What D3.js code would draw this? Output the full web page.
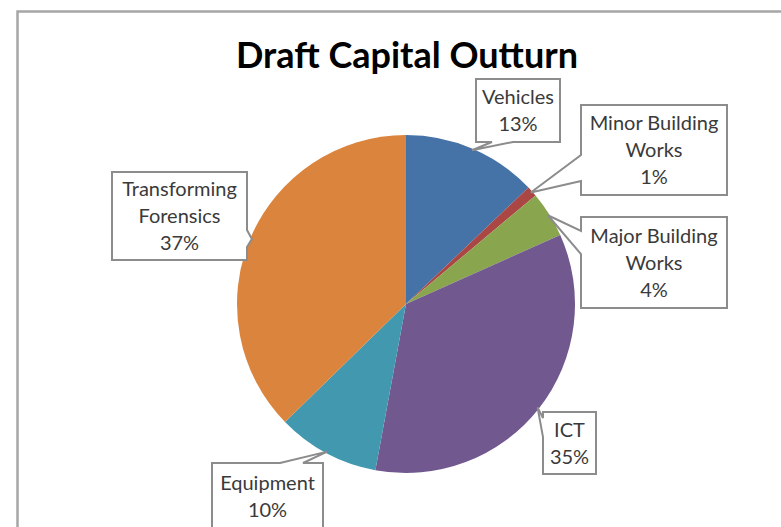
<!DOCTYPE html>
<html>
<head>
<meta charset="utf-8">
<script src="https://cdn.jsdelivr.net/npm/d3@7/dist/d3.min.js"></script>
<style>
    body { margin: 0; background: #fff; }
</style>
</head>
<body>
<div class="svg-container"></div>
<script>
// Data
const title = "Draft Capital Outturn";
const categories = ["Vehicles", "Minor Building Works", "Major Building Works", "ICT", "Equipment", "Transforming Forensics"];
const values = [12.9, 1.0, 4.4, 34.6, 9.8, 37.3];
// how each category name wraps inside its callout
const labelLines = [["Vehicles"], ["Minor Building", "Works"], ["Major Building", "Works"], ["ICT"], ["Equipment"], ["Transforming", "Forensics"]];
const colours = ["#4572a7", "#aa4643", "#89a54e", "#71588f", "#4198af", "#db843d"];

/**
 * Pie chart
 *      draws the excel style pie with callout labels
 */
const pieChart = (() => {
    const SCREEN = { WIDTH: 781, HEIGHT: 527 };
    const PIE = { CX: 406, CY: 304, R: 169 };

    // callout boxes : position of the box, which side the pointer leaves from
    // and where along that side the pointer is attached
    const callouts = [
        { x: 476, y: 79,  w: 84,  h: 63, side: 'bottom', a: [16, 37] },
        { x: 581, y: 105, w: 146, h: 90, side: 'left',   a: [50, 76] },
        { x: 581, y: 217, w: 146, h: 91, side: 'left',   a: [14, 37] },
        { x: 543, y: 412, w: 53,  h: 62, side: 'left',   a: [6, 25] },
        { x: 212, y: 463, w: 111, h: 66, side: 'top',    a: [68, 91] },
        { x: 112, y: 172, w: 135, h: 88, side: 'right',  a: [58, 75] }
    ];

    const initSVG = () => {
        return d3.select('.svg-container').append('svg')
                 .attr('width', SCREEN.WIDTH)
                 .attr('height', SCREEN.HEIGHT)
                 .style('display', 'block');
    };

    /**
     * Build the outline of a box with a pointer going to tip
     */
    const calloutPath = (c, tip) => {
        const [a0, a1] = c.a;
        const x0 = c.x, y0 = c.y, x1 = c.x + c.w, y1 = c.y + c.h;
        const t = `L${tip[0]},${tip[1]}`;
        let p = `M${x0},${y0}`;
        if (c.side === 'top') p += `L${x0 + a0},${y0}${t}L${x0 + a1},${y0}`;
        p += `L${x1},${y0}`;
        if (c.side === 'right') p += `L${x1},${y0 + a0}${t}L${x1},${y0 + a1}`;
        p += `L${x1},${y1}`;
        if (c.side === 'bottom') p += `L${x0 + a1},${y1}${t}L${x0 + a0},${y1}`;
        p += `L${x0},${y1}`;
        if (c.side === 'left') p += `L${x0},${y0 + a1}${t}L${x0},${y0 + a0}`;
        return p + 'Z';
    };

    const init = () => {
        const svg = initSVG();

        // chart frame
        svg.append('rect')
           .attr('x', 17.5).attr('y', 11.5)
           .attr('width', 900).attr('height', 700)
           .attr('fill', 'none')
           .attr('stroke', '#a6a6a6')
           .attr('stroke-width', 2.5);

        svg.append('text')
           .attr('x', 407).attr('y', 68)
           .attr('text-anchor', 'middle')
           .style('font-family', 'Lato, "Open Sans", sans-serif')
           .style('font-weight', 'bold')
           .style('font-size', '36px')
           .attr('fill', '#000')
           .text(title);

        const total = d3.sum(values);
        const pie = d3.pie().sort(null).value(d => d);
        const arcs = pie(values);
        const arc = d3.arc().innerRadius(0).outerRadius(PIE.R);
        const edge = d3.arc().innerRadius(PIE.R * 0.99).outerRadius(PIE.R * 0.99);
        const pct = d3.format('.0f');

        const pieGroup = svg.append('g').attr('transform', `translate(${PIE.CX}, ${PIE.CY})`);
        pieGroup.selectAll('path')
                .data(arcs)
                .enter()
                .append('path')
                .attr('d', arc)
                .attr('fill', (d, i) => colours[i]);

        // callouts
        const labelGroup = svg.append('g');
        arcs.forEach((d, i) => {
            const c = callouts[i];
            const e = edge.centroid(d);
            const tip = [PIE.CX + e[0], PIE.CY + e[1]];
            labelGroup.append('path')
                      .attr('d', calloutPath(c, tip))
                      .attr('fill', '#fff')
                      .attr('stroke', '#8c8c8c')
                      .attr('stroke-width', 2)
                      .attr('stroke-linejoin', 'miter');

            const lines = labelLines[i].concat([`${pct(values[i] / total * 100)}%`]);
            const lh = 27;
            const startY = c.y + c.h / 2 - (lines.length - 1) * lh / 2;
            const txt = labelGroup.append('text')
                                  .attr('text-anchor', 'middle')
                                  .style('font-family', 'Lato, "Open Sans", sans-serif')
                                  .style('font-size', '20px')
                                  .attr('fill', '#3a3a3a');
            lines.forEach((l, j) => {
                txt.append('tspan')
                   .attr('x', c.x + c.w / 2)
                   .attr('y', startY + j * lh)
                   .attr('dy', '0.35em')
                   .text(l);
            });
        });
    };

    return { init: init };
})();

pieChart.init();
</script>
</body>
</html>
